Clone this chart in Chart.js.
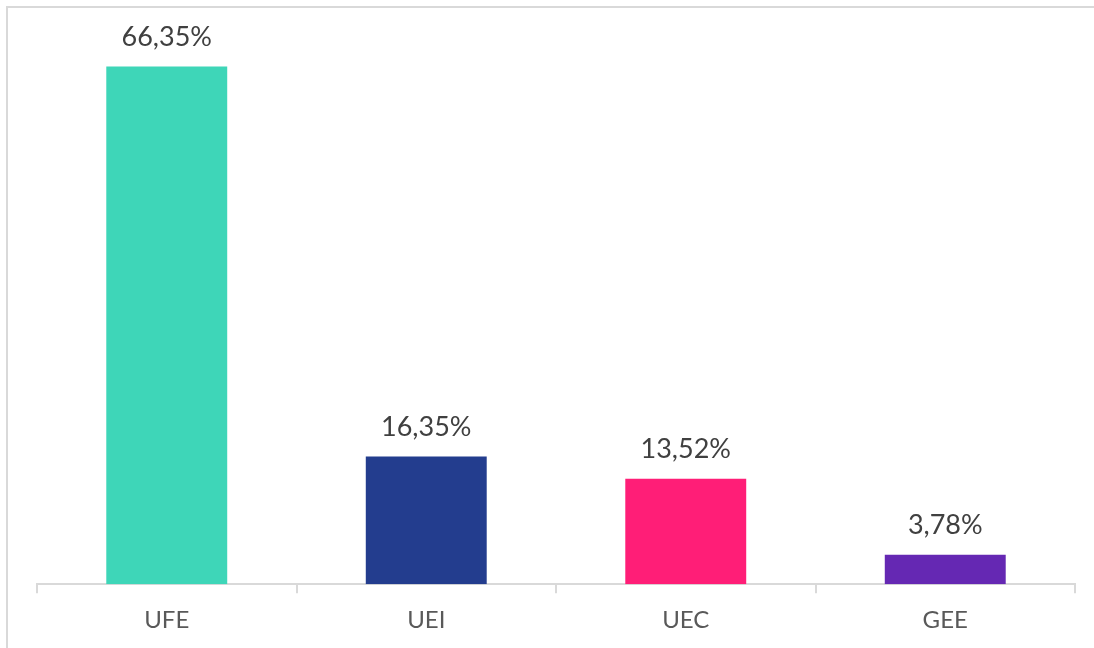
<!DOCTYPE html>
<html>
<head>
<meta charset="utf-8">
<script src="https://cdn.jsdelivr.net/npm/chart.js@4"></script>
<style>
  html, body { margin: 0; padding: 0; background: #fff; }
  #wrap { position: relative; width: 1094px; height: 648px; overflow: hidden; }
  #frame { position: absolute; left: 6px; top: 6px; width: 1100px; height: 660px;
           border-top: 2px solid #d9d9d9; border-left: 2px solid #d9d9d9; }
  canvas { position: absolute; left: 0; top: 0; }
</style>
</head>
<body>
<div id="wrap">
  <div id="frame"></div>
  <canvas id="chart" width="1094" height="648"></canvas>
</div>
<script>
const categories = ['UFE', 'UEI', 'UEC', 'GEE'];
const shares = [66.35, 16.35, 13.52, 3.78];
const barColors = ['#3ED6B8', '#233D8E', '#FF1E77', '#6528B3'];

document.addEventListener('DOMContentLoaded', () => {
    // value labels above each bar, comma as decimal mark
    const valueLabels = {
        id: 'valueLabels',
        afterDatasetsDraw(chart) {
            const ctx = chart.ctx;
            const meta = chart.getDatasetMeta(0);
            ctx.save();
            ctx.font = '27px Lato';
            ctx.fillStyle = '#404040';
            ctx.textAlign = 'center';
            ctx.textBaseline = 'middle';
            meta.data.forEach((bar, i) => {
                const txt = shares[i].toFixed(2).replace('.', ',') + '%';
                ctx.fillText(txt, bar.x, bar.y - 29);
            });
            ctx.restore();
        }
    };

    new Chart(document.getElementById('chart'), {
        type: 'bar',
        data: {
            labels: categories,
            datasets: [{
                data: shares,
                backgroundColor: barColors,
                borderWidth: 0,
                categoryPercentage: 1,
                barPercentage: 0.466
            }]
        },
        options: {
            responsive: false,
            animation: false,
            layout: { padding: { left: 37, right: 19, top: 38, bottom: 0 } },
            plugins: {
                legend: { display: false },
                tooltip: { enabled: false }
            },
            scales: {
                x: {
                    border: { color: '#d9d9d9', width: 2 },
                    grid: {
                        offset: true,
                        drawOnChartArea: false,
                        drawTicks: true,
                        tickLength: 9,
                        color: '#d9d9d9',
                        lineWidth: 2
                    },
                    ticks: {
                        color: '#595959',
                        font: { family: 'Lato', size: 24 },
                        padding: 13
                    }
                },
                y: {
                    display: false,
                    min: 0,
                    max: 70
                }
            }
        },
        plugins: [valueLabels]
    });
});
</script>
</body>
</html>
